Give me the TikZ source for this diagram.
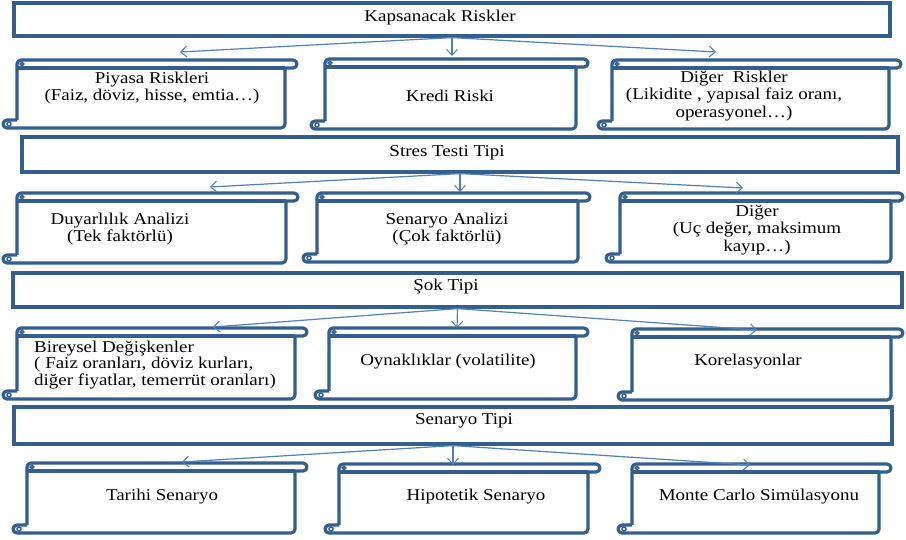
\documentclass[tikz,border=0pt]{standalone}
\usepackage{fontspec}
\setmainfont{Liberation Serif}[FakeStretch=1.15]
\usetikzlibrary{arrows.meta}
\definecolor{boxblue}{RGB}{52,94,142}
\definecolor{arrblue}{RGB}{79,129,189}
\tikzset{
  scrollline/.style={draw=boxblue, line width=3.2pt, line join=round},
  curlline/.style={draw=boxblue, line width=1.5pt},
  hdrbox/.style={draw=boxblue, line width=3.2pt, inner sep=0pt},
  txt/.style={font=\fontsize{16.5}{17.5}\selectfont, align=center, inner sep=0pt, text=black},
  conn/.style={draw=arrblue, line width=1.2pt, -{Straight Barb[length=6pt,width=11pt,line width=1pt]}},
}
% #1 L, #2 R, #3 T, #4 B
\newcommand\scrollshape[4]{%
  \draw[scrollline, rounded corners=4pt] ({#1},{#4-8}) -- ({#1},{#3}) -- ({#2},{#3}) -- ({#2},{#3+8}) -- ({#2-12},{#3+8});
  \draw[scrollline] ({#1},{#3+8}) -- ({#2-12},{#3+8});
  \draw[scrollline, rounded corners=4pt] ({#2-12},{#3+8}) -- ({#2-12},{#4}) -- ({#1-14},{#4}) -- ({#1-14},{#4-8}) -- ({#1},{#4-8});
  \draw[curlline] ({#1-8},{#4-4}) circle[radius=2pt];
  \draw[curlline] ({#1+5},{#3+4}) circle[radius=1.8pt];
}
\begin{document}
\begin{tikzpicture}[x=1pt,y=-1pt]
\useasboundingbox (0,0) rectangle (906,539);
\fill[white] (0,0) rectangle (906,539);

% headers
\node[hdrbox, minimum width=876pt, minimum height=33pt] (h1) at (452,19.5) {};
\node[hdrbox, minimum width=876pt, minimum height=35pt] (h2) at (460,154.5) {};
\node[hdrbox, minimum width=889pt, minimum height=34pt] (h3) at (457.5,290) {};
\node[hdrbox, minimum width=878pt, minimum height=37pt] (h4) at (453,425.5) {};
\node[txt] (h1t) at (440,18) {Kapsanacak Riskler};
\node[txt] (h2t) at (447,153) {Stres Testi Tipi};
\node[txt] (h3t) at (446,287) {Şok Tipi};
\node[txt] (h4t) at (464,421) {Senaryo Tipi};

% scroll shapes
\scrollshape{17}{297}{60}{128}
\scrollshape{325}{588}{59}{129}
\scrollshape{612}{901}{60}{129}
\scrollshape{17}{298}{193}{263}
\scrollshape{317}{590}{193}{262}
\scrollshape{620}{903}{193}{262}
\scrollshape{17}{307}{328}{399}
\scrollshape{329}{588}{328}{399}
\scrollshape{632}{903}{329}{400}
\scrollshape{27}{307}{463}{533}
\scrollshape{339}{600}{464}{533}
\scrollshape{632}{891}{464}{533}

% scroll texts
\node[txt] (s11) at (152,88) {Piyasa Riskleri\\(Faiz, döviz, hisse, emtia…)};
\node[txt] (s12) at (450,96) {Kredi Riski};
\node[txt] (s13) at (734,96) {Diğer\ \ Riskler\\(Likidite , yapısal faiz oranı,\\operasyonel…)};
\node[txt] (s21) at (120,229) {Duyarlılık Analizi\\(Tek faktörlü)};
\node[txt] (s22) at (447,229) {Senaryo Analizi\\(Çok faktörlü)};
\node[txt] (s23) at (757,230) {Diğer\\(Uç değer, maksimum\\kayıp…)};
\node[txt, align=left, anchor=west, font=\fontsize{16.5}{16.5}\selectfont] (s31) at (34,365) {Bireysel Değişkenler\\( Faiz oranları, döviz kurları,\\diğer fiyatlar, temerrüt oranları)};
\node[txt] (s32) at (448,362) {Oynaklıklar (volatilite)};
\node[txt] (s33) at (748,362) {Korelasyonlar};
\node[txt] (s41) at (162,497) {Tarihi Senaryo};
\node[txt] (s42) at (476,497) {Hipotetik Senaryo};
\node[txt] (s43) at (759,497) {Monte Carlo Simülasyonu};

% arrow end points
\coordinate (e11) at (180,52);
\coordinate (e12) at (452,56);
\coordinate (e13) at (716,52);
\coordinate (e21) at (210,187);
\coordinate (e22) at (460,192);
\coordinate (e23) at (743,188);
\coordinate (e31) at (213,327);
\coordinate (e32) at (457,328);
\coordinate (e33) at (757,330);
\coordinate (e41) at (182,462);
\coordinate (e42) at (453,465);
\coordinate (e43) at (750,465);

\foreach \r in {1,2,3,4}{
  \foreach \c in {1,2,3}{
    \draw[conn] (h\r.south) -- (e\r\c);
  }
}
\end{tikzpicture}
\end{document}
